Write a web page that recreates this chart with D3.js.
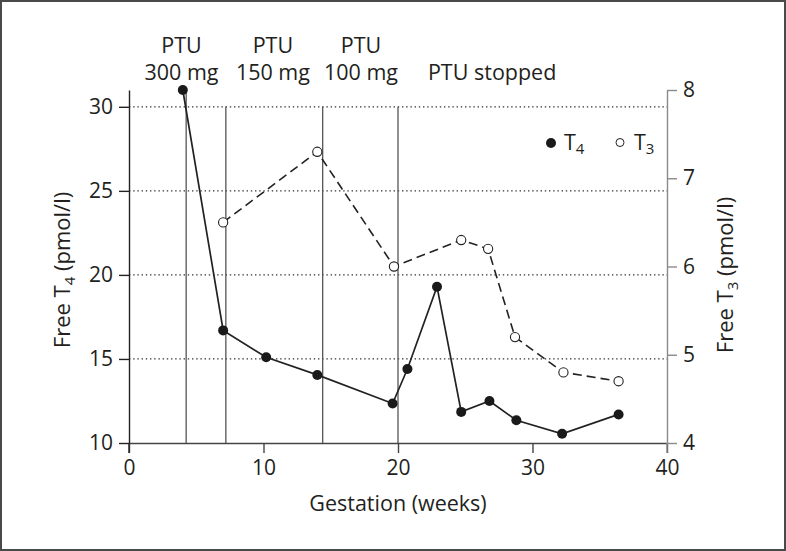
<!DOCTYPE html>
<html><head><meta charset="utf-8">
<script src="https://cdn.jsdelivr.net/npm/d3@7"></script>
<style>
html,body{margin:0;padding:0;background:#fff;}
svg{display:block;font-family:"Open Sans",sans-serif;}
</style></head>
<body><svg id="c" width="786" height="551"></svg>
<script>
// ---- data ----
const weeksT4 = [4.0, 7.0, 10.2, 14.0, 19.6, 20.7, 22.9, 24.7, 26.8, 28.8, 32.2, 36.4];
const freeT4  = [31.0, 16.7, 15.1, 14.05, 12.35, 14.4, 19.3, 11.85, 12.5, 11.35, 10.55, 11.7];
const weeksT3 = [7.0, 14.0, 19.7, 24.7, 26.7, 28.7, 32.3, 36.4];
const freeT3  = [6.5, 7.3, 6.0, 6.3, 6.2, 5.2, 4.8, 4.7];
const doseWeeks = [4.25, 7.2, 14.4, 20.0];
const doseTop   = [31.0, 30, 30, 30];
const labelWeeks = [3.9, 10.7, 17.25, 27.0];
const labelLine1 = ["PTU", "PTU", "PTU", ""];
const labelLine2 = ["300 mg", "150 mg", "100 mg", "PTU stopped"];
const xTicks = [0, 10, 20, 30, 40];
const leftTicks = [10, 15, 20, 25, 30];
const rightTicks = [4, 5, 6, 7, 8];

const svg = d3.select("#c");
const x = d3.scaleLinear().domain([0, 40]).range([129, 667]);
const yL = d3.scaleLinear().domain([10, 31]).range([443, 90]);
const yR = d3.scaleLinear().domain([4, 8]).range([443, 90]);

// frame
svg.append("rect").attr("x",1).attr("y",1).attr("width",784).attr("height",549)
  .attr("fill","#fff").attr("stroke","#4a4a4a").attr("stroke-width",2);

// grid
svg.append("g").selectAll("line").data(leftTicks.filter(d=>d>10)).join("line")
  .attr("x1", x(0)).attr("x2", x(40)).attr("y1", d=>yL(d)).attr("y2", d=>yL(d))
  .attr("stroke","#333").attr("stroke-width",1.2).attr("stroke-dasharray","1.4,2.8");

// dose lines
svg.append("g").selectAll("line").data(doseWeeks).join("line")
  .attr("x1", d=>x(d)).attr("x2", d=>x(d)).attr("y1",(d,i)=>yL(doseTop[i])).attr("y2", yL(10))
  .attr("stroke","#555").attr("stroke-width",1.3);

// axes
function styleAxis(g, col, fs){
  g.attr("font-size", null).attr("font-family", null);
  g.select(".domain").attr("stroke", col).attr("stroke-width",1.4);
  g.selectAll(".tick line").attr("stroke", col).attr("stroke-width",1.4);
  g.selectAll(".tick text").attr("fill","#231f20").style("font-size", fs).style("font-family","'Open Sans',sans-serif");
}
const fmt = d3.format("d");
const gx = svg.append("g").attr("transform",`translate(0,${yL(10)})`)
  .call(d3.axisBottom(x).tickValues(xTicks).tickFormat(fmt).tickSize(10).tickSizeOuter(0).tickPadding(7));
styleAxis(gx, "#444", "21px");
const gl = svg.append("g").attr("transform",`translate(${x(0)},0)`)
  .call(d3.axisLeft(yL).tickValues(leftTicks).tickFormat(fmt).tickSize(10).tickSizeOuter(0).tickPadding(6));
styleAxis(gl, "#222", "21px");
const gr = svg.append("g").attr("transform",`translate(${x(40)},0)`)
  .call(d3.axisRight(yR).tickValues(rightTicks).tickFormat(fmt).tickSize(10).tickSizeOuter(0).tickPadding(6));
styleAxis(gr, "#8a8a8a", "21px");
// extend axis lines below x axis
svg.append("line").attr("x1",x(0)).attr("x2",x(0)).attr("y1",yL(10)).attr("y2",yL(10)+10).attr("stroke","#222").attr("stroke-width",1.4);
svg.append("line").attr("x1",x(40)).attr("x2",x(40)).attr("y1",yL(10)).attr("y2",yL(10)+10).attr("stroke","#8a8a8a").attr("stroke-width",1.4);

// axis titles
svg.append("text").attr("x", (x(0)+x(40))/2).attr("y", 511).attr("text-anchor","middle")
  .style("font-size","21.5px").attr("fill","#231f20").text("Gestation (weeks)");
const tl = svg.append("text").attr("transform","translate(70,270) rotate(-90)").attr("text-anchor","middle")
  .style("font-size","22px").attr("fill","#231f20");
tl.append("tspan").text("Free T");
tl.append("tspan").attr("dy",5).style("font-size","15px").text("4");
tl.append("tspan").attr("dy",-5).text(" (pmol/l)");
const tr = svg.append("text").attr("transform","translate(733,275) rotate(-90)").attr("text-anchor","middle")
  .style("font-size","22px").attr("fill","#231f20");
tr.append("tspan").text("Free T");
tr.append("tspan").attr("dy",5).style("font-size","15px").text("3");
tr.append("tspan").attr("dy",-5).text(" (pmol/l)");

// dose labels
const lg = svg.append("g").style("font-size","21.5px").attr("fill","#231f20").attr("text-anchor","middle");
lg.selectAll("text.l1").data(labelWeeks).join("text").attr("class","l1")
  .attr("x", d=>x(d)).attr("y", 53).text((d,i)=>labelLine1[i]);
lg.selectAll("text.l2").data(labelWeeks).join("text").attr("class","l2")
  .attr("x", d=>x(d)).attr("y", 80).text((d,i)=>labelLine2[i]);

// T3 dashed line
const t3 = weeksT3.map((w,i)=>[w, freeT3[i]]);
svg.append("path").datum(t3)
  .attr("d", d3.line().x(d=>x(d[0])).y(d=>yR(d[1])))
  .attr("fill","none").attr("stroke","#222").attr("stroke-width",1.6).attr("stroke-dasharray","9,5");
// T4 solid line
const t4 = weeksT4.map((w,i)=>[w, freeT4[i]]);
svg.append("path").datum(t4)
  .attr("d", d3.line().x(d=>x(d[0])).y(d=>yL(d[1])))
  .attr("fill","none").attr("stroke","#222").attr("stroke-width",1.7);

svg.append("g").selectAll("circle").data(t3).join("circle")
  .attr("cx", d=>x(d[0])).attr("cy", d=>yR(d[1])).attr("r",4.6)
  .attr("fill","#fff").attr("stroke","#222").attr("stroke-width",1.1);
svg.append("g").selectAll("circle").data(t4).join("circle")
  .attr("cx", d=>x(d[0])).attr("cy", d=>yL(d[1])).attr("r",5)
  .attr("fill","#1a1a1a");

// legend
svg.append("circle").attr("cx",551).attr("cy",143).attr("r",5).attr("fill","#1a1a1a");
svg.append("circle").attr("cx",620).attr("cy",142.5).attr("r",4).attr("fill","#fff").attr("stroke","#222").attr("stroke-width",1);
const l4 = svg.append("text").attr("x",564).attr("y",149.5).style("font-size","21.5px").attr("fill","#231f20");
l4.append("tspan").text("T"); l4.append("tspan").attr("dy",4).style("font-size","15px").text("4");
const l3 = svg.append("text").attr("x",634).attr("y",149.5).style("font-size","21.5px").attr("fill","#231f20");
l3.append("tspan").text("T"); l3.append("tspan").attr("dy",4).style("font-size","15px").text("3");
</script></body></html>
